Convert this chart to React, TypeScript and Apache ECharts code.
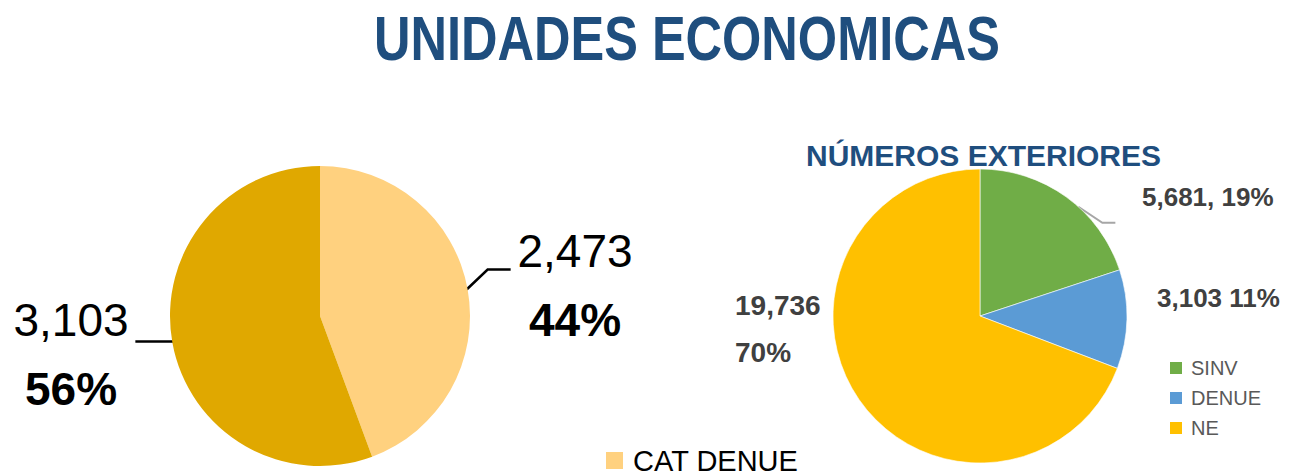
import React, { useEffect, useRef } from 'react';
import * as echarts from 'echarts';

const titleText = 'UNIDADES ECONOMICAS';
const subtitleText = 'NÚMEROS EXTERIORES';

const catNames = ['CAT DENUE', 'CAT SINV'];
const catValues = [2473, 3103];
const catPercents = ['44%', '56%'];
const catColors = ['#FFD17F', '#E0A800'];
const catLegend = ['CAT DENUE'];

const extNames = ['SINV', 'DENUE', 'NE'];
const extValues = [5681, 3103, 19736];
const extPercents = ['19%', '11%', '70%'];
const extColors = ['#70AD47', '#5B9BD5', '#FFC000'];

const fmt = (v: number) => v.toLocaleString('en-US');

const LEFT_C = [320, 316];
const LEFT_R = 150;
const RIGHT_C = [980, 316];
const RIGHT_R = 147;

export default function App() {
  const ref = useRef<HTMLDivElement>(null);
  useEffect(() => {
    document.body.style.margin = '0';
    const chart = echarts.init(ref.current!, null, { renderer: 'svg' });
    const option: any = {
      animation: false,
      backgroundColor: '#ffffff',
      graphic: [
        {
          type: 'text',
          x: 374,
          y: 8,
          scaleX: 0.815,
          style: {
            text: titleText,
            fontFamily: '"Liberation Sans", sans-serif',
            fontWeight: 'bold',
            fontSize: 62,
            fill: '#1F4E7E',
            textVerticalAlign: 'top',
          },
        },
      ],
      title: [
        {
          text: subtitleText,
          left: 806,
          top: 140,
          padding: 0,
          textStyle: {
            fontFamily: '"Liberation Sans", sans-serif',
            fontWeight: 'bold',
            fontSize: 30,
            color: '#1F4E7E',
          },
        },
      ],
      legend: [
        {
          data: catLegend,
          left: 606,
          top: 446,
          padding: 0,
          icon: 'rect',
          itemWidth: 17,
          itemHeight: 17,
          selectedMode: false,
          textStyle: {
            fontFamily: '"Liberation Sans", sans-serif',
            fontSize: 29,
            color: '#000',
            padding: [0, 0, 0, 5],
          },
        },
        {
          data: extNames,
          orient: 'vertical',
          left: 1168,
          top: 358,
          padding: 0,
          icon: 'rect',
          itemWidth: 14,
          itemHeight: 14,
          itemGap: 10,
          selectedMode: false,
          textStyle: {
            fontFamily: '"Liberation Sans", sans-serif',
            fontSize: 20,
            lineHeight: 20,
            color: '#595959',
            padding: [0, 0, 0, 3],
          },
        },
      ],
      series: [
        {
          type: 'pie',
          center: LEFT_C,
          radius: LEFT_R,
          startAngle: 90,
          clockwise: true,
          data: catNames.map((n, i) => ({
            name: n,
            value: catValues[i],
            itemStyle: { color: catColors[i] },
          })),
          label: {
            show: true,
            position: 'outside',
            formatter: (p: any) => `{v|${fmt(p.value)}}\n{p|${catPercents[p.dataIndex]}}`,
            rich: {
              v: { fontFamily: '"Liberation Sans", sans-serif', fontSize: 46, color: '#000', lineHeight: 69 },
              p: { fontFamily: '"Liberation Sans", sans-serif', fontSize: 46, fontWeight: 'bold', color: '#000', lineHeight: 69 },
            },
          },
          labelLine: { show: true, length: 10, length2: 20, lineStyle: { color: '#000', width: 2.5 } },
          labelLayout: (p: any) => {
            const a = p.labelLinePoints ? p.labelLinePoints[0] : [0, 0];
            if (p.dataIndex === 0) {
              return {
                x: 575,
                y: 285,
                align: 'center',
                verticalAlign: 'middle',
                labelLinePoints: [
                  [a[0] - 1, a[1]],
                  [a[0] + 20, a[1] - 20],
                  [a[0] + 43, a[1] - 20],
                ],
              };
            }
            return {
              x: 71,
              y: 354,
              align: 'center',
              verticalAlign: 'middle',
              labelLinePoints: [
                [a[0] + 2, a[1] - 1],
                [a[0] - 37, a[1] - 1],
              ],
            };
          },
        },
        {
          type: 'pie',
          center: RIGHT_C,
          radius: RIGHT_R,
          startAngle: 90,
          clockwise: true,
          itemStyle: { borderColor: '#ffffff', borderWidth: 0.6 },
          data: extNames.map((n, i) => ({
            name: n,
            value: extValues[i],
            itemStyle: { color: extColors[i] },
            labelLine: { show: i === 0 },
            label: i === 2 ? { fontSize: 28 } : {},
          })),
          label: {
            show: true,
            position: 'outside',
            fontFamily: '"Liberation Sans", sans-serif',
            fontSize: 26,
            fontWeight: 'bold',
            color: '#404040',
            lineHeight: 47,
            formatter: (p: any) => {
              const v = fmt(p.value);
              const pc = extPercents[p.dataIndex];
              if (p.dataIndex === 0) return `${v}, ${pc}`;
              if (p.dataIndex === 1) return `${v} ${pc}`;
              return `${v}\n${pc}`;
            },
          },
          labelLine: { length: 10, length2: 10, lineStyle: { color: '#A6A6A6', width: 2 } },
          labelLayout: (p: any) => {
            if (p.dataIndex === 0) {
              const ang = (42 * Math.PI) / 180;
              const sx = RIGHT_C[0] + RIGHT_R * Math.sin(ang);
              const sy = RIGHT_C[1] - RIGHT_R * Math.cos(ang);
              return {
                x: 1142,
                y: 197,
                align: 'left',
                verticalAlign: 'middle',
                labelLinePoints: [
                  [sx, sy],
                  [sx + 24, sy + 16],
                  [sx + 37, sy + 16],
                ],
              };
            }
            if (p.dataIndex === 1) {
              return { x: 1157, y: 298, align: 'left', verticalAlign: 'middle' };
            }
            return { x: 735, y: 329, align: 'left', verticalAlign: 'middle' };
          },
        },
      ],
    };
    chart.setOption(option);
    return () => chart.dispose();
  }, []);
  return (
    <div
      ref={ref}
      style={{ position: 'absolute', left: 0, top: 0, width: 1292, height: 475 }}
    />
  );
}
